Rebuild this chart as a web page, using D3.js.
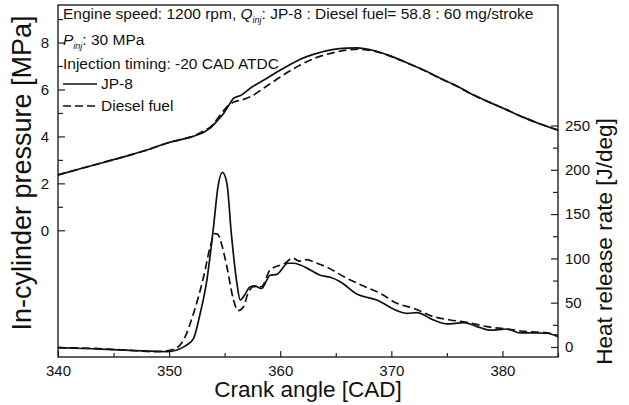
<!DOCTYPE html>
<html>
<head>
<meta charset="utf-8">
<script src="https://cdn.jsdelivr.net/npm/d3@7"></script>
<style>
  body { margin: 0; background: #fff; }
  text { font-family: "Liberation Sans", Arial, sans-serif; fill: #111; }
</style>
</head>
<body>
<div id="chart"></div>
<script>
// crank angle [CAD] and in-cylinder pressure [MPa]
const cadPJet = [340, 342, 344, 346, 348, 350, 351, 352, 352.5, 353.2, 353.7, 354.3, 354.9, 355.4, 355.8, 356.5, 357.3, 358.8, 360.3, 361.8, 363.3, 364.8, 366, 366.9, 368.4, 369.9, 371.4, 372.9, 374.4, 375.9, 377.4, 378.9, 380.4, 381.9, 383.4, 385];
const presJet = [2.36, 2.62, 2.88, 3.14, 3.42, 3.74, 3.86, 3.98, 4.06, 4.2, 4.35, 4.65, 4.98, 5.35, 5.62, 5.76, 6.05, 6.48, 6.9, 7.29, 7.54, 7.71, 7.76, 7.77, 7.66, 7.43, 7.14, 6.83, 6.48, 6.15, 5.76, 5.44, 5.13, 4.81, 4.53, 4.27];

const cadPDiesel = [340, 342, 344, 346, 348, 350, 351, 352, 352.5, 353.2, 353.7, 354.3, 354.9, 355.4, 355.9, 356.5, 357.3, 358.8, 360.3, 361.8, 363.3, 364.8, 366, 367, 368.4, 369.9, 371.4, 372.9, 374.4, 375.9, 377.4, 378.9, 380.4, 381.9, 383.4, 385];
const presDiesel = [2.36, 2.62, 2.88, 3.14, 3.42, 3.74, 3.86, 3.98, 4.08, 4.25, 4.4, 4.72, 5.1, 5.35, 5.48, 5.55, 5.69, 6.15, 6.62, 7.04, 7.37, 7.57, 7.68, 7.72, 7.64, 7.42, 7.13, 6.82, 6.47, 6.14, 5.76, 5.44, 5.13, 4.81, 4.53, 4.27];

// heat release rate [J/deg]
const cadHJet = [340, 343, 346, 349, 349.8, 350.7, 351.6, 352.2, 352.8, 353.4, 354, 354.4, 354.8, 355.2, 355.6, 356.1, 356.4, 356.7, 357.3, 357.7, 358.3, 359.1, 359.7, 360.7, 361.2, 361.8, 362.4, 363.6, 364.5, 365.4, 366.9, 368.7, 370.5, 371.4, 372.3, 373.8, 375, 376.5, 378, 378.9, 380.4, 381.6, 382.8, 384, 385];
const hrrJet = [-0.8, -2, -3.5, -5, -5.3, -3.4, 2.3, 9.8, 38, 75.6, 136, 181, 197, 185, 128, 72, 53, 56.8, 68, 69, 66, 81, 82, 94.5, 94.5, 92.5, 89, 81, 78.7, 73.7, 59.8, 53, 41, 38, 38.7, 30.5, 26, 27.5, 21.8, 19, 20.3, 16, 16, 15.5, 11.6];

const cadHDiesel = [340, 343, 346, 348.9, 350.4, 351.3, 352.2, 353.1, 353.7, 354.1, 354.4, 354.7, 355.2, 355.8, 356.2, 356.7, 357.1, 357.6, 358.3, 359.1, 360.5, 361.1, 361.7, 362.4, 363, 364.2, 366, 367.5, 369, 370.5, 372, 373.8, 375.3, 376.8, 378.6, 380.4, 382.2, 384, 385];
const hrrDiesel = [-0.8, -1.5, -3.5, -5.3, -2.6, 7.9, 38, 79, 113, 128, 127, 117, 90.6, 53, 41, 45.5, 60.6, 68, 68, 87, 95, 100.5, 97, 98.5, 96, 90, 77.5, 68.8, 60.6, 49.3, 43.7, 34.2, 30.5, 27.9, 22.9, 20.3, 17.3, 16, 13];

const xTicks = [340, 350, 360, 370, 380];
const xMinor = [345, 355, 365, 375, 385];
const pTicks = [0, 2, 4, 6, 8];
const pMinor = [1, 3, 5, 7, 9];
const hTicks = [0, 50, 100, 150, 200, 250];
const hMinor = [25, 75, 125, 175, 225];

const W = 629, H = 405;
const margin = { top: 5, right: 71, bottom: 48, left: 58 };

const svg = d3.select("#chart").append("svg")
    .attr("width", W)
    .attr("height", H);

svg.append("rect").attr("width", W).attr("height", H).attr("fill", "#fff");

const x = d3.scaleLinear().domain([340, 385]).range([margin.left, W - margin.right]);
const yP = d3.scaleLinear().domain([-5.4, 9.6]).range([H - margin.bottom, margin.top]);
const yH = d3.scaleLinear().domain([-11.3, 386]).range([H - margin.bottom, margin.top]);

// axes (ticks pointing inward)
const gx = svg.append("g").attr("transform", "translate(0," + (H - margin.bottom) + ")");
gx.call(d3.axisBottom(x).tickValues(xTicks).tickSize(-6).tickPadding(8).tickFormat(d3.format("d")));
gx.append("g").call(d3.axisBottom(x).tickValues(xMinor).tickSize(-4).tickFormat(""));

const gl = svg.append("g").attr("transform", "translate(" + margin.left + ",0)");
gl.call(d3.axisLeft(yP).tickValues(pTicks).tickSize(-7).tickPadding(9).tickFormat(d3.format("d")));
gl.append("g").call(d3.axisLeft(yP).tickValues(pMinor).tickSize(-5).tickFormat(""));

const gr = svg.append("g").attr("transform", "translate(" + (W - margin.right) + ",0)");
gr.call(d3.axisRight(yH).tickValues(hTicks).tickSize(-7).tickPadding(7).tickFormat(d3.format("d")));
gr.append("g").call(d3.axisRight(yH).tickValues(hMinor).tickSize(-5).tickFormat(""));

svg.selectAll(".domain").remove();
svg.selectAll(".tick line").attr("stroke", "#222").attr("stroke-width", 1.2);
svg.selectAll(".tick text").style("font-size", "15px").attr("fill", "#111");

// frame
svg.append("rect")
    .attr("x", margin.left)
    .attr("y", margin.top)
    .attr("width", W - margin.left - margin.right)
    .attr("height", H - margin.top - margin.bottom)
    .attr("fill", "none")
    .attr("stroke", "#222")
    .attr("stroke-width", 1.4);

// curves
function series(cads, vals, yScale) {
    return cads.map((c, i) => [x(c), yScale(vals[i])]);
}
const line = d3.line().curve(d3.curveMonotoneX);

const curves = [
    { pts: series(cadPJet, presJet, yP), dash: null },
    { pts: series(cadPDiesel, presDiesel, yP), dash: "8,4" },
    { pts: series(cadHJet, hrrJet, yH), dash: null },
    { pts: series(cadHDiesel, hrrDiesel, yH), dash: "8,4" }
];

svg.selectAll(".curve")
    .data(curves)
    .join("path")
    .attr("class", "curve")
    .attr("d", d => line(d.pts))
    .attr("fill", "none")
    .attr("stroke", "#111")
    .attr("stroke-width", 1.7)
    .attr("stroke-dasharray", d => d.dash);

// axis titles
svg.append("text")
    .attr("transform", "translate(22," + 173 + ") rotate(-90)")
    .attr("text-anchor", "middle")
    .attr("dy", "0.35em")
    .style("font-size", "27px")
    .text("In-cylinder pressure [MPa]");

svg.append("text")
    .attr("transform", "translate(604," + 241.5 + ") rotate(-90)")
    .attr("text-anchor", "middle")
    .attr("dy", "0.35em")
    .style("font-size", "22.5px")
    .text("Heat release rate [J/deg]");

svg.append("text")
    .attr("x", (margin.left + W - margin.right) / 2)
    .attr("y", 397)
    .attr("text-anchor", "middle")
    .style("font-size", "22.5px")
    .text("Crank angle [CAD]");

// annotations
const note = svg.append("g").style("font-size", "15.5px");
const t1 = note.append("text").attr("x", 63).attr("y", 19);
t1.append("tspan").text("Engine speed: 1200 rpm, ");
t1.append("tspan").style("font-style", "italic").text("Q");
t1.append("tspan").style("font-style", "italic").style("font-size", "9px").attr("dy", 4).text("inj");
t1.append("tspan").attr("dy", -4).text(": JP-8 : Diesel fuel= 58.8 : 60 mg/stroke");

const t2 = note.append("text").attr("x", 63).attr("y", 45);
t2.append("tspan").style("font-style", "italic").text("P");
t2.append("tspan").style("font-style", "italic").style("font-size", "9px").attr("dy", 4).text("inj");
t2.append("tspan").attr("dy", -4).text(": 30 MPa");

note.append("text").attr("x", 63).attr("y", 69).text("Injection timing: -20 CAD ATDC");

// legend
const legendItems = [
    { label: "JP-8", dash: null, y: 84 },
    { label: "Diesel fuel", dash: "8,4" , y: 106 }
];
const lg = svg.append("g");
lg.selectAll("line")
    .data(legendItems)
    .join("line")
    .attr("x1", 63).attr("x2", 97)
    .attr("y1", d => d.y).attr("y2", d => d.y)
    .attr("stroke", "#111")
    .attr("stroke-width", 1.7)
    .attr("stroke-dasharray", d => d.dash);
lg.selectAll("text")
    .data(legendItems)
    .join("text")
    .attr("x", 101)
    .attr("y", d => d.y + 5)
    .style("font-size", "15.5px")
    .text(d => d.label);
</script>
</body>
</html>
